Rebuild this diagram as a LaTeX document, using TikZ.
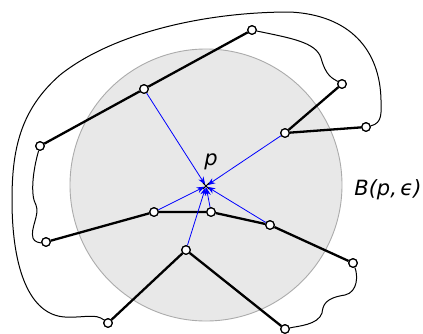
\documentclass[tikz,border=0pt]{standalone}
\usepackage{fontspec}
\setmainfont{DejaVu Sans}
\usetikzlibrary{arrows.meta}
\tikzset{
    vtx/.style={circle, draw, fill=white, line width=1.2pt, inner sep=0pt, minimum size=8.5pt},
    edge/.style={line width=2.3pt},
    wig/.style={line width=1pt},
    toward/.style={-{Stealth[length=8pt, width=6pt]}, blue, line width=0.8pt, shorten >=1.5pt},
    ball/.style={fill=black!9, draw=black!33, line width=0.9pt}
}

\begin{document}
\begin{tikzpicture}[x=1pt, y=-1pt, font=\fontsize{21}{25}\selectfont\itshape]
\useasboundingbox (0,0) rectangle (423,333);
\fill[ball] (206,185) circle (136);

\coordinate (p) at (206,186);
\node at (211,162) {p};
\node at (388,190) {B(p,\,ϵ)};

% vertices
\node[vtx] (a) at (252,30) {};
\node[vtx] (b) at (144,89) {};
\node[vtx] (c) at (40,146) {};
\node[vtx] (d) at (342,84) {};
\node[vtx] (e) at (285,133) {};
\node[vtx] (f) at (366,127) {};
\node[vtx] (g) at (154,212) {};
\node[vtx] (h) at (211,212) {};
\node[vtx] (i) at (270,225) {};
\node[vtx] (j) at (46,242) {};
\node[vtx] (k) at (186,250) {};
\node[vtx] (l) at (353,263) {};
\node[vtx] (m) at (108,323) {};
\node[vtx] (n) at (285,329) {};

% loose curves
\draw[wig] (a) .. controls (290,38) and (316,42) .. (321,58)
    .. controls (326,76) and (332,78) .. (d);
\draw[wig] (c) .. controls (33,170) and (30,195) .. (36,205)
    .. controls (40,215) and (30,228) .. (33,238)
    .. controls (34,242) and (40,243) .. (j);
\draw[wig] (l) .. controls (358,275) and (358,292) .. (345,295)
    .. controls (325,298) and (323,305) .. (322,313)
    .. controls (318,325) and (298,326) .. (n);
\draw[wig] (f) .. controls (383,123) and (381,112) .. (381,100)
    .. controls (380,50) and (350,15) .. (290,12)
    .. controls (200,12) and (110,35) .. (60,75)
    .. controls (20,110) and (12,150) .. (12,200)
    .. controls (12,270) and (30,315) .. (65,317)
    .. controls (85,318) and (95,313) .. (m);

% polygon edges
\draw[edge] (a) -- (b) -- (c);
\draw[edge] (d) -- (e) -- (f);
\draw[edge] (j) -- (g) -- (h) -- (i) -- (l);
\draw[edge] (m) -- (k) -- (n);

% nearest points
\foreach \v in {b,e,g,h,i,k}
    \draw[toward] (\v) -- (p);
\draw[line width=0.8pt] ([shift={(-3,-3)}]p) -- ([shift={(3,3)}]p)
    ([shift={(-3,3)}]p) -- ([shift={(3,-3)}]p);

% redraw vertices on top
\foreach \v in {a,b,c,d,e,f,g,h,i,j,k,l,m,n}
    \node[vtx] at (\v) {};
\end{tikzpicture}
\end{document}
